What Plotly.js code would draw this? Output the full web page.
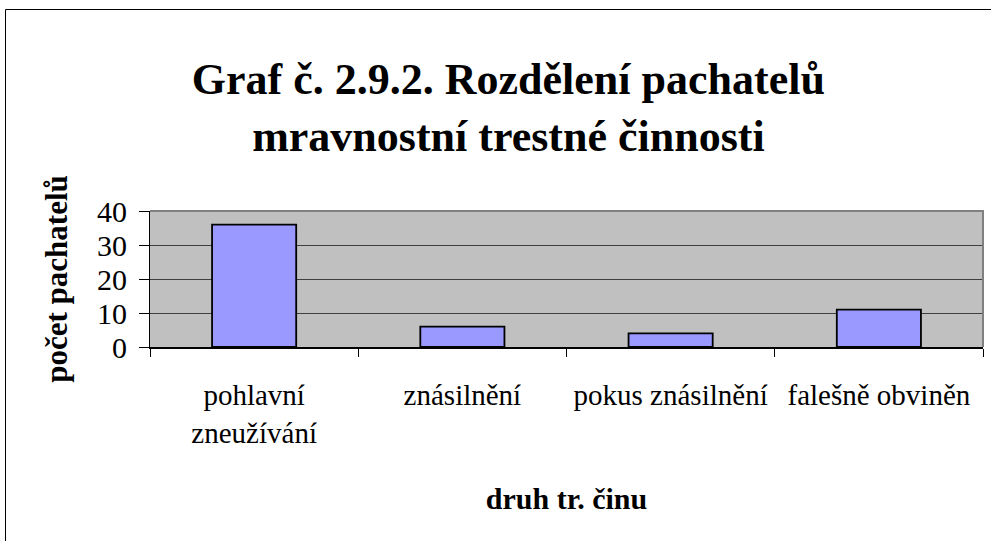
<!DOCTYPE html>
<html>
<head>
<meta charset="utf-8">
<script src="https://cdn.plot.ly/plotly-3.0.1.min.js"></script>
<style>
html,body{margin:0;padding:0;background:#fff;}
#chart{width:991px;height:541px;}
</style>
</head>
<body>
<div id="chart"></div>
<script>
const categories = ["pohlavní<br>zneužívání", "znásilnění", "pokus znásilnění", "falešně obviněn"];
const values = [36, 6, 4, 11];
const yTicks = [0, 10, 20, 30, 40];
const titleText = "Graf č. 2.9.2. Rozdělení pachatelů<br>mravnostní trestné činnosti";
const xTitle = "druh tr. činu";
const yTitle = "počet pachatelů";

const W = 991, H = 541;
const M = {l: 150, r: 8, t: 211, b: 194};
const PW = W - M.l - M.r, PH = H - M.t - M.b;
const px = v => (v - M.l) / PW;
const py = v => (H - M.b - v) / PH;
const FONT = "Liberation Serif";

const trace = {
  type: "bar",
  x: categories,
  y: values,
  marker: {color: "#9999ff", line: {color: "#000000", width: 1.8}},
  hoverinfo: "x+y"
};

const layout = {
  width: W, height: H,
  margin: M,
  paper_bgcolor: "#ffffff",
  plot_bgcolor: "#c0c0c0",
  showlegend: false,
  bargap: 0.596,
  font: {family: FONT, color: "#000000"},
  title: {
    text: titleText,
    font: {family: FONT, size: 44, color: "#000000", weight: "bold"},
    x: 0.513, xref: "container", xanchor: "center",
    y: 1 - 94 / H, yref: "container", yanchor: "middle"
  },
  xaxis: {
    type: "category",
    showgrid: false,
    showline: true, linecolor: "#000000", linewidth: 2,
    ticks: "outside", ticklen: 8, tickcolor: "#000000", tickwidth: 1,
    tickson: "boundaries",
    ticklabelstandoff: 21,
    tickfont: {family: FONT, size: 29, color: "#000000"},
    title: {text: xTitle, font: {family: FONT, size: 30, color: "#000000", weight: "bold"}, standoff: 40},
    automargin: false,
    fixedrange: true
  },
  yaxis: {
    range: [0, 40],
    tickvals: yTicks,
    showgrid: true, gridcolor: "#404040", gridwidth: 1,
    zeroline: false,
    showline: true, linecolor: "#000000", linewidth: 1,
    ticks: "outside", ticklen: 10, tickcolor: "#000000", tickwidth: 1,
    ticklabelstandoff: 6,
    tickfont: {family: FONT, size: 30, color: "#000000"},
    title: {text: yTitle, font: {family: FONT, size: 31, color: "#000000", weight: "bold"}, standoff: 20},
    automargin: false,
    fixedrange: true
  },
  shapes: [
    {type: "path", xref: "paper", yref: "paper",
     path: `M 0 1 L 1 1 L 1 0`, line: {color: "#808080", width: 2}, layer: "above"},
    {type: "path", xref: "paper", yref: "paper",
     path: `M ${px(5.5)} ${py(H + 5)} L ${px(5.5)} ${py(9.5)} L ${px(W + 5)} ${py(9.5)}`,
     line: {color: "#000000", width: 1}, layer: "above"}
  ]
};

Plotly.newPlot("chart", [trace], layout, {displayModeBar: false, staticPlot: true});
</script>
</body>
</html>
